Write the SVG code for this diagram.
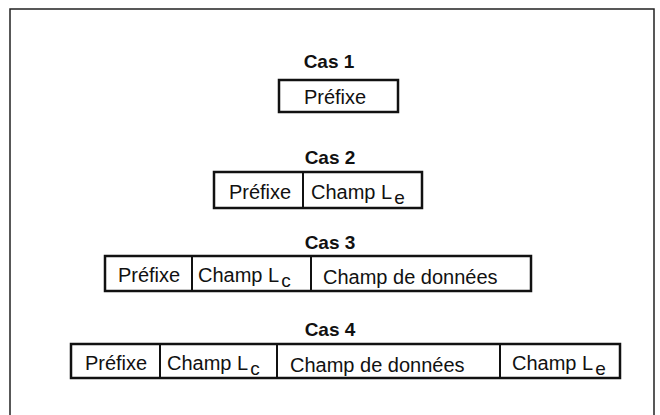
<svg xmlns="http://www.w3.org/2000/svg" width="660" height="415" viewBox="0 0 660 415">
<style>
text{font-family:"Liberation Sans",Arial,sans-serif;font-size:20px;fill:#111}
.t{font-weight:bold;font-size:19px;text-anchor:middle}
.c{text-anchor:middle}
.box{fill:none;stroke:#111;stroke-width:2.5}
.div{stroke:#111;stroke-width:2}
.sub{font-size:19px}
</style>
<rect width="660" height="415" fill="#fff"/>
<path d="M10,420 V9 H654 V420" fill="none" stroke="#222" stroke-width="1.5"/>
<g id="cas1">
<text class="t" x="329" y="68">Cas 1</text>
<rect class="box" x="279" y="80" width="119" height="32"/>
<text class="c" x="335" y="104">Préfixe</text>
</g>
<g id="cas2">
<text class="t" x="330" y="164">Cas 2</text>
<rect class="box" x="214" y="172" width="208" height="36"/>
<line class="div" x1="303" y1="172" x2="303" y2="208"/>
<text class="c" x="260" y="199">Préfixe</text>
<text x="311" y="199">Champ L<tspan class="sub" dx="2" dy="5">e</tspan></text>
</g>
<g id="cas3">
<text class="t" x="330" y="249">Cas 3</text>
<rect class="box" x="105" y="256" width="426" height="35"/>
<line class="div" x1="192" y1="256" x2="192" y2="291"/>
<line class="div" x1="311" y1="256" x2="311" y2="291"/>
<text class="c" x="149" y="282">Préfixe</text>
<text x="198" y="282">Champ L<tspan class="sub" dx="2" dy="5">c</tspan></text>
<text x="323" y="284">Champ de données</text>
</g>
<g id="cas4">
<text class="t" x="330" y="336">Cas 4</text>
<rect class="box" x="71" y="344" width="549" height="34"/>
<line class="div" x1="160" y1="344" x2="160" y2="378"/>
<line class="div" x1="277" y1="344" x2="277" y2="378"/>
<line class="div" x1="500" y1="344" x2="500" y2="378"/>
<text class="c" x="116" y="370">Préfixe</text>
<text x="167" y="370">Champ L<tspan class="sub" dx="2" dy="5">c</tspan></text>
<text x="290" y="372">Champ de données</text>
<text x="512" y="370">Champ L<tspan class="sub" dx="2" dy="5">e</tspan></text>
</g>
</svg>
